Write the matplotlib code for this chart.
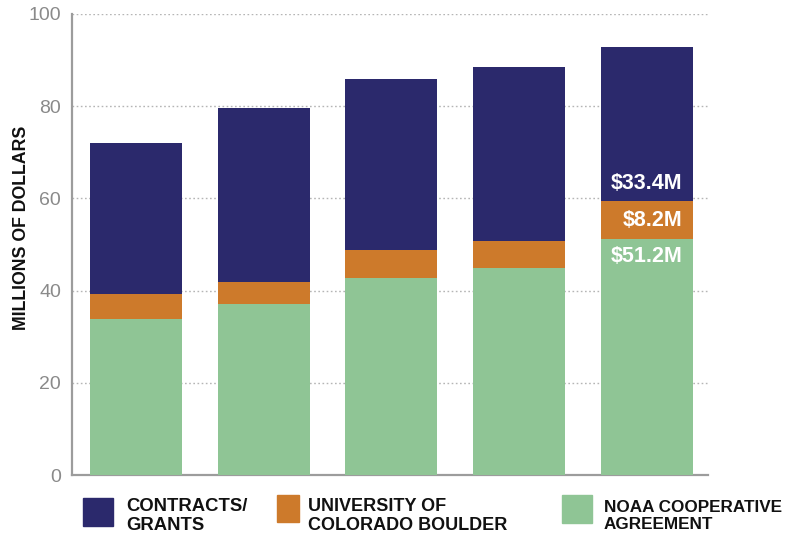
import matplotlib.pyplot as plt
import matplotlib.patches as mpatches
import numpy as np

plt.rcParams['font.family'] = ['Liberation Sans', 'DejaVu Sans']

# values in millions of dollars
noaa = [33.8, 37.1, 42.8, 44.9, 51.2]
cu_boulder = [5.5, 4.8, 5.9, 5.9, 8.2]
contracts = [32.7, 37.7, 37.3, 37.7, 33.4]
last_labels = ["$51.2M", "$8.2M", "$33.4M"]
legend_names = ["CONTRACTS/\nGRANTS", "UNIVERSITY OF\nCOLORADO BOULDER", "NOAA COOPERATIVE\nAGREEMENT"]

c_navy = '#2b296c'
c_orange = '#cd7a2b'
c_green = '#8fc595'
c_axis = '#9c9c9c'

W, H = 791, 538
fig = plt.figure(figsize=(W / 100, H / 100), dpi=100)
ax = fig.add_axes([72 / W, 1 - 475 / H, (708 - 72) / W, (475 - 14) / H])

x = np.arange(len(noaa))
width = 0.72
bottom2 = np.array(noaa)
bottom3 = bottom2 + np.array(cu_boulder)
ax.bar(x, noaa, width, color=c_green, zorder=3)
ax.bar(x, cu_boulder, width, bottom=bottom2, color=c_orange, zorder=3)
ax.bar(x, contracts, width, bottom=bottom3, color=c_navy, zorder=3)

# labels on the last bar
i = len(noaa) - 1
xr = x[i] + width / 2 - 0.08
mid = bottom2[i] + cu_boulder[i] / 2
off = 7.9
for yv, txt in zip([mid - off, mid, mid + off], last_labels):
    ax.text(xr, yv, txt, ha='right', va='center', color='white',
            fontsize=15.5, fontweight='bold', zorder=4)

ax.set_xlim(-0.5, 4.48)
ax.set_ylim(0, 100)
ax.set_yticks(range(0, 101, 20))
ax.set_xticks([])
ax.tick_params(axis='y', length=0, pad=8, labelsize=14, labelcolor='#8a8a8a')
ax.grid(axis='y', linestyle=(0, (1.2, 1.8)), color='#b5b5b5', linewidth=1, zorder=0)
for s in ['top', 'right']:
    ax.spines[s].set_visible(False)
for s in ['left', 'bottom']:
    ax.spines[s].set_color(c_axis)
    ax.spines[s].set_linewidth(1.6)

fig.text(22 / W, 1 - 228 / H, "MILLIONS OF DOLLARS", rotation=90, ha='center',
         va='center', fontsize=12.8, fontweight='bold', color='#111111')

# legend drawn as figure patches and text
boxes = [(83, 498, 30, 28, c_navy), (277, 495, 22, 27, c_orange), (562, 495, 30, 28, c_green)]
text_x = [126, 308, 604]
text_size = [13.3, 13.0, 12.3]
for (bx, by, bw, bh, col), tx, fs, name in zip(boxes, text_x, text_size, legend_names):
    fig.patches.append(mpatches.Rectangle((bx / W, 1 - (by + bh) / H), bw / W, bh / H,
                                          transform=fig.transFigure, color=col))
    fig.text(tx / W, 1 - 516 / H, name, ha='left', va='center', fontsize=fs,
             fontweight='bold', color='#111111', linespacing=1.1)

fig.savefig('out.png', dpi=100)
